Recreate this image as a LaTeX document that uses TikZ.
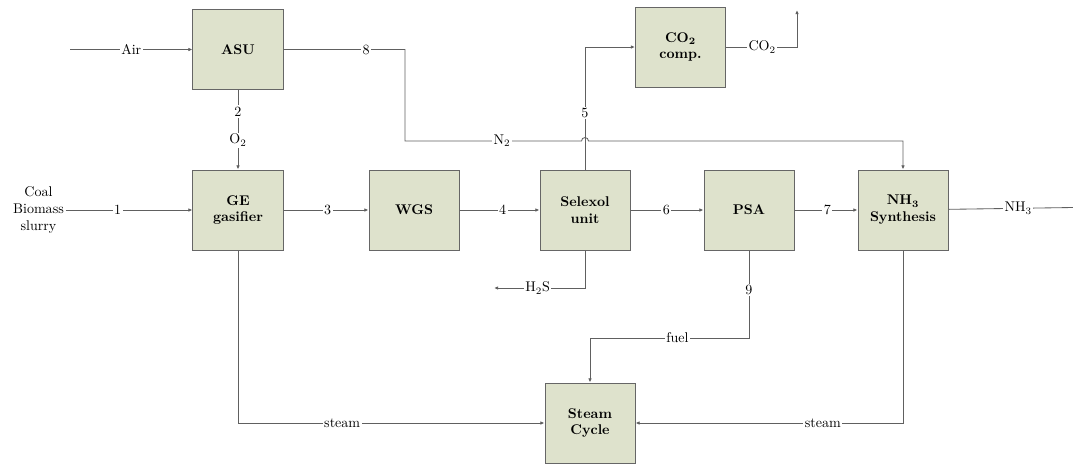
\documentclass[tikz,border=0pt]{standalone}
\usetikzlibrary{arrows.meta}

\definecolor{boxfill}{RGB}{222,226,204}
\definecolor{linegray}{RGB}{96,96,96}

\tikzset{
  unit/.style={draw=black!60,fill=boxfill,line width=0.7pt,minimum width=2.25cm,
    minimum height=2cm,inner sep=0pt,font=\bfseries,align=center},
  flow/.style={linegray,line width=0.6pt,-{Latex[length=3pt,width=2.6pt]}},
  pipe/.style={linegray,line width=0.6pt},
  lab/.style={fill=white,inner sep=1pt,text=black}
}

\begin{document}
\begin{tikzpicture}[x=0.025cm,y=-0.025cm]
\useasboundingbox (0,0) rectangle (1073,463);

% units
\node[unit] (asu) at (238,49.5) {ASU};
\node[unit] (ge) at (238,210) {GE\\gasifier};
\node[unit] (wgs) at (414,210) {WGS};
\node[unit] (sel) at (585,210) {Selexol\\unit};
\node[unit] (psa) at (749,210) {PSA};
\node[unit] (nh3) at (903,210) {NH\textsubscript{3}\\Synthesis};
\node[unit] (co2) at (680.5,47) {CO\textsubscript{2}\\comp.};
\node[unit] (stc) at (590,423) {Steam\\Cycle};

% feeds and outlets
\node[align=center,inner sep=1pt] (feed) at (38.5,210) {Coal\\Biomass\\slurry};
\coordinate (airin) at (70,49.5);
\coordinate (co2out) at (797,10);
\coordinate (h2sout) at (494,288);
\coordinate (nh3out) at (1073,207.5);

% main train
\draw[flow] (airin) -- node[lab]{Air} (asu);
\draw[flow] (feed) -- node[lab,pos=0.41]{1} (ge);
\draw[flow] (asu) -- node[lab,pos=0.27]{2} node[lab,pos=0.63]{O\textsubscript{2}} (ge);
\draw[flow] (ge) -- node[lab,pos=0.52]{3} (wgs);
\draw[flow] (wgs) -- node[lab,pos=0.54]{4} (sel);
\draw[flow] (sel) -- node[lab,pos=0.49]{6} (psa);
\draw[flow] (psa) -- node[lab,pos=0.52]{7} (nh3);
\draw[pipe] (nh3) -- node[lab,pos=0.56]{NH\textsubscript{3}} (nh3out);

% nitrogen to synthesis
\draw[flow] (asu.east) -- node[lab,pos=0.68]{8} (405,49.5) -- (405,141)
  -- node[lab,pos=0.55]{N\textsubscript{2}} (581.5,141)
  arc[start angle=180,end angle=0,radius=0.0875cm] -- (903,141) -- (nh3.north);

% CO2 and H2S
\draw[flow] (sel.north) |- node[lab,pos=0.23]{5} (co2.west);
\draw[flow] (co2.east) -- node[lab,pos=0.51]{CO\textsubscript{2}} (797,47) -- (co2out);
\draw[flow] (sel.south) |- node[lab,pos=0.76]{H\textsubscript{2}S} (h2sout);

% fuel and steam
\draw[flow] (psa.south) -- node[lab,pos=0.45]{9} (749,338)
  -- node[lab,pos=0.45]{fuel} (590,338) -- (stc.north);
\draw[flow] (ge.south) |- node[lab,pos=0.67]{steam} (stc.west);
\draw[flow] (nh3.south) |- node[lab,pos=0.65]{steam} (stc.east);
\end{tikzpicture}
\end{document}
